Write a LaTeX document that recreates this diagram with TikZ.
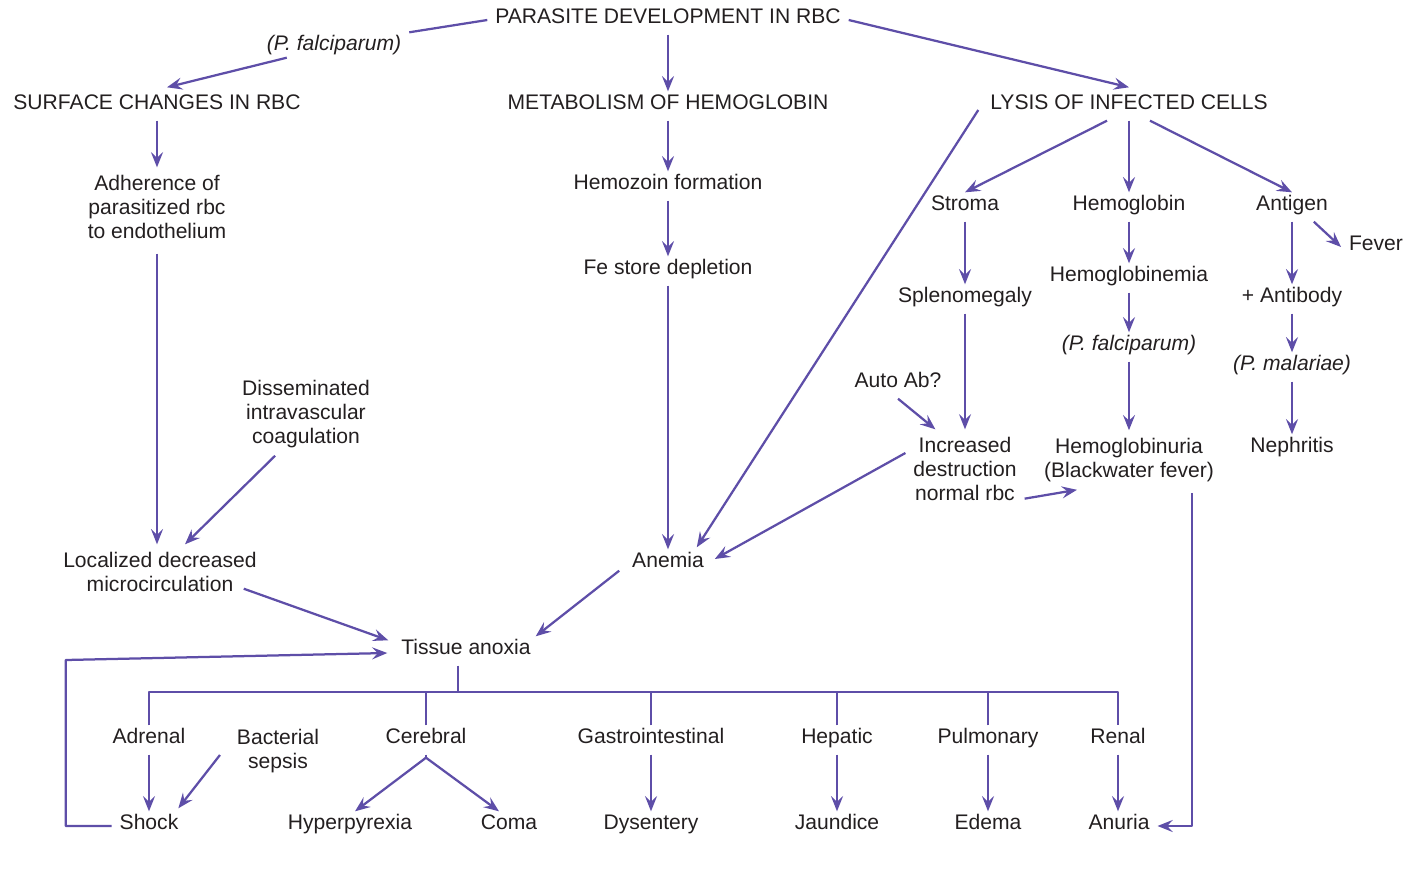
\documentclass[tikz,border=0pt]{standalone}
\usepackage{fontspec}
\setmainfont{Liberation Sans}
\usetikzlibrary{arrows.meta,calc}
\definecolor{flowpurple}{RGB}{94,78,168}
\definecolor{inkgray}{RGB}{35,31,32}

\begin{document}
\begin{tikzpicture}[x=0.025cm, y=-0.025cm, font=\fontsize{15}{17}\selectfont, line join=round,
		>={Stealth[length=3.8mm, width=3mm, inset=1.4mm]},
		lbl/.style={inner sep=5.5pt, text=inkgray, text height=0.73em, text depth=0.22em},
		mlbl/.style={inner sep=5.5pt, text=inkgray, align=center},
		species/.style={lbl, font=\fontsize{15}{17}\selectfont\itshape},
		link/.style={draw=flowpurple, line width=1.6pt}]
			\useasboundingbox (0,-2) rectangle (1407,880);
			
			% top level
			\node[lbl] (parasite) at (668,18) {PARASITE DEVELOPMENT IN RBC};
			\node[species] (pfal) at (334,45) {(P. falciparum)};
			\node[lbl] (surface) at (157,104) {SURFACE CHANGES IN RBC};
			\node[lbl] (metab) at (668,104) {METABOLISM OF HEMOGLOBIN};
			\node[lbl] (lysis) at (1129,104) {LYSIS OF INFECTED CELLS};
			
			% left column
			\node[mlbl] (adhere) at (157,205) {Adherence of\\parasitized rbc\\to endothelium};
			\node[mlbl] (dic) at (306,412) {Disseminated\\intravascular\\coagulation};
			\node[mlbl] (local) at (160,570) {Localized decreased\\microcirculation};
			\node[lbl] (tissue) at (466,649) {Tissue anoxia};
			
			% middle column
			\node[lbl] (hemozoin) at (668,184) {Hemozoin formation};
			\node[lbl] (fe) at (668,269) {Fe store depletion};
			\node[lbl] (anemia) at (668,562) {Anemia};
			
			% right column
			\node[lbl] (stroma) at (965,205) {Stroma};
			\node[lbl] (hemoglobin) at (1129,205) {Hemoglobin};
			\node[lbl] (antigen) at (1292,205) {Antigen};
			\node[lbl] (fever) at (1376,245) {Fever};
			\node[lbl] (spleno) at (965,297) {Splenomegaly};
			\node[lbl] (hgbemia) at (1129,276) {Hemoglobinemia};
			\node[lbl] (antibody) at (1292,297) {+ Antibody};
			\node[species] (pfal2) at (1129,345) {(P. falciparum)};
			\node[species] (pmal) at (1292,365) {(P. malariae)};
			\node[lbl] (autoab) at (898,382) {Auto Ab?};
			\node[mlbl] (destruct) at (965,467) {Increased\\destruction\\normal rbc};
			\node[mlbl] (hgburia) at (1129,458) {Hemoglobinuria\\(Blackwater fever)};
			\node[lbl] (nephritis) at (1292,447) {Nephritis};
			
			% organs
			\node[lbl] (adrenal) at (149,738) {Adrenal};
			\node[mlbl] (sepsis) at (278,749) {Bacterial\\sepsis};
			\node[lbl] (cerebral) at (426,738) {Cerebral};
			\node[lbl] (gastro) at (651,738) {Gastrointestinal};
			\node[lbl] (hepatic) at (837,738) {Hepatic};
			\node[lbl] (pulmonary) at (988,738) {Pulmonary};
			\node[lbl] (renal) at (1118,738) {Renal};
			\node[lbl] (shock) at (149,824) {Shock};
			\node[lbl] (hyper) at (350,824) {Hyperpyrexia};
			\node[lbl] (coma) at (509,824) {Coma};
			\node[lbl] (dysentery) at (651,824) {Dysentery};
			\node[lbl] (jaundice) at (837,824) {Jaundice};
			\node[lbl] (edema) at (988,824) {Edema};
			\node[lbl] (anuria) at (1119,824) {Anuria};
			
			% from parasite development
			\draw[link] (parasite.west) -- (pfal.north east);
			\draw[link, ->] ($(pfal.south west)+(28,-4)$) -- ($(surface.north)+(10,-4)$);
			\draw[link, ->] (parasite.south) -- (metab.north);
			\draw[link, ->] (parasite.east) -- ($(lysis.north)+(0,-4)$);
			
			% left column
			\draw[link, ->] (surface.south) -- (adhere.north);
			\draw[link, ->] ($(adhere.south)+(0,7)$) -- (adhere.south |- local.north);
			\draw[link, ->] ($(dic.south west)+(41,0)$) -- ($(local.north)+(25,0)$);
			\draw[link, ->] ($(local.south east)+(-21,-11)$) -- ($(tissue.north west)+(-5,4)$);
			
			% middle column
			\draw[link, ->] (metab.south) -- (hemozoin.north);
			\draw[link, ->] (hemozoin.south) -- (fe.north);
			\draw[link, ->] (fe.south) -- (anemia.north);
			\draw[link, ->] ($(anemia.south west)+(-5,-8)$) -- ($(tissue.north east)+(-3,0)$);
			
			% lysis of infected cells
			\draw[link, ->] ($(lysis.west)+(-4,4)$) -- ($(anemia.north east)+(-15,-2)$);
			\draw[link, ->] ($(lysis.south)+(-22,0)$) -- (stroma.north);
			\draw[link, ->] (lysis.south) -- (hemoglobin.north);
			\draw[link, ->] ($(lysis.south)+(21,0)$) -- (antigen.north);
			\draw[link, ->] ($(antigen.south east)+(-22,0)$) -- (fever.west);
			\draw[link, ->] (stroma.south) -- (spleno.north);
			\draw[link, ->] (spleno.south) -- (destruct.north);
			\draw[link, ->] (autoab.south) -- ($(destruct.north west)+(30,0)$);
			\draw[link, ->] ($(destruct.west)+(0,-16)$) -- ($(anemia.east)+(3,-5)$);
			\draw[link, ->] ($(destruct.south east)+(0,-10)$) -- ($(hgburia.south west)+(41,0)$);
			\draw[link, ->] (hemoglobin.south) -- (hgbemia.north);
			\draw[link, ->] (hgbemia.south) -- (pfal2.north);
			\draw[link, ->] (pfal2.south) -- (hgburia.north);
			\draw[link, ->] ($(hgburia.south east)+(-30,3)$) |- (anuria.east);
			\draw[link, ->] (antigen.south) -- (antibody.north);
			\draw[link, ->] (antibody.south) -- (pmal.north);
			\draw[link, ->] (pmal.south) -- (nephritis.north);
			
			% tissue anoxia to the organs
			\coordinate (bus) at ($(tissue.south)+(-8,26)$);
			\draw[link] ($(tissue.south)+(-8,0)$) -- (bus);
			\draw[link] (adrenal.north) |- (bus) -| (renal.north);
			\foreach \organ in {cerebral, gastro, hepatic, pulmonary}
				\draw[link] (\organ.north) -- (\organ.north |- bus);
			
			\draw[link, ->] (adrenal.south) -- (shock.north);
			\draw[link, ->] ($(sepsis.west)+(-9,4)$) -- ($(shock.north east)+(-8,-3)$);
			\draw[link] (cerebral.south) -- ++(0,3) coordinate (fork);
			\draw[link, ->] (fork) -- ($(hyper.north)+(5,0)$);
			\draw[link, ->] (fork) -- ($(coma.north)+(-10,0)$);
			\draw[link, ->] (gastro.south) -- (dysentery.north);
			\draw[link, ->] (hepatic.south) -- (jaundice.north);
			\draw[link, ->] (pulmonary.south) -- (edema.north);
			\draw[link, ->] (renal.south) -- (renal.south |- anuria.north);
			\draw[link, ->] (shock.west) -- ++(-46,0) -- ++(0,-166) -- ($(tissue.west)+(-6,2)$);
\end{tikzpicture}
\end{document}
